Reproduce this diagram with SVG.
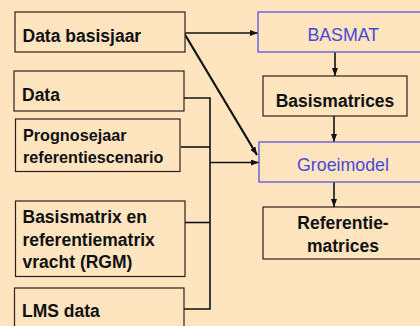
<svg xmlns="http://www.w3.org/2000/svg" width="420" height="326" viewBox="0 0 420 326">
<defs>
<style>
.bg{fill:#FFE4C0}
.box{fill:#FFE4C0;stroke:#2a2218;stroke-width:1.2}
.bbox{fill:#FFE4C0;stroke:#6060d8;stroke-width:1.4}
.t{font-family:"Liberation Sans",Arial,sans-serif;font-weight:bold;font-size:17.5px;fill:#111}
.ts{font-family:"Liberation Sans",Arial,sans-serif;font-weight:bold;font-size:16.2px;fill:#111}
.tb{font-family:"Liberation Sans",Arial,sans-serif;font-size:17.8px;fill:#4848d8}
.c{fill:none;stroke:#111;stroke-width:1.6}
.cd{fill:none;stroke:#111;stroke-width:2.2}
</style>
<marker id="ah" markerWidth="8" markerHeight="6" refX="8" refY="3" orient="auto" markerUnits="userSpaceOnUse">
<path d="M0,0 L8,3 L0,6 Z" fill="#111"/>
</marker>
</defs>
<rect class="bg" x="0" y="0" width="420" height="326"/>
<g id="connectors">
<line class="c" x1="184" y1="33" x2="258" y2="33" marker-end="url(#ah)"/>
<line class="cd" x1="184" y1="33" x2="257" y2="155" marker-end="url(#ah)"/>
<polyline class="c" points="184,98 210,98 210,309 184,309"/>
<line class="c" x1="181" y1="147" x2="210" y2="147"/>
<line class="c" x1="185" y1="222.5" x2="210" y2="222.5"/>
<line class="c" x1="210" y1="162.5" x2="259" y2="162.5" marker-end="url(#ah)"/>
<line class="c" x1="335" y1="52" x2="335" y2="76" marker-end="url(#ah)"/>
<line class="c" x1="334" y1="116" x2="334" y2="142" marker-end="url(#ah)"/>
<line class="c" x1="334" y1="182" x2="334" y2="207" marker-end="url(#ah)"/>
</g>
<g id="data-basisjaar">
<rect class="box" x="15" y="12" width="170" height="40"/>
<text class="t" x="22.5" y="41.5">Data basisjaar</text>
</g>
<g id="data">
<rect class="box" x="14" y="71" width="170" height="40"/>
<text class="t" x="22" y="100.7">Data</text>
</g>
<g id="prognosejaar">
<rect class="box" x="15.5" y="119" width="164.5" height="52.5"/>
<text class="ts" x="23" y="140.5">Prognosejaar</text>
<text class="ts" x="23" y="163">referentiescenario</text>
</g>
<g id="basismatrix">
<rect class="box" x="15.5" y="201" width="169.5" height="75.5"/>
<text class="t" x="22.5" y="223">Basismatrix en</text>
<text class="t" x="22.5" y="245.5">referentiematrix</text>
<text class="t" x="22.5" y="268">vracht (RGM)</text>
</g>
<g id="lms-data">
<rect class="box" x="14.5" y="288" width="169.5" height="50"/>
<text class="t" x="22" y="317">LMS data</text>
</g>
<g id="basmat">
<rect class="bbox" x="258" y="12" width="172" height="40"/>
<text class="tb" x="343.3" y="41" text-anchor="middle">BASMAT</text>
</g>
<g id="basismatrices">
<rect class="box" x="263" y="76" width="144" height="40"/>
<text class="t" x="335" y="106.5" text-anchor="middle">Basismatrices</text>
</g>
<g id="groeimodel">
<rect class="bbox" x="259" y="142" width="172" height="40"/>
<text class="tb" x="343" y="171" text-anchor="middle">Groeimodel</text>
</g>
<g id="referentiematrices">
<rect class="box" x="263" y="207" width="170" height="52"/>
<text class="t" x="343" y="229" text-anchor="middle">Referentie-</text>
<text class="t" x="343" y="251.5" text-anchor="middle">matrices</text>
</g>
</svg>
